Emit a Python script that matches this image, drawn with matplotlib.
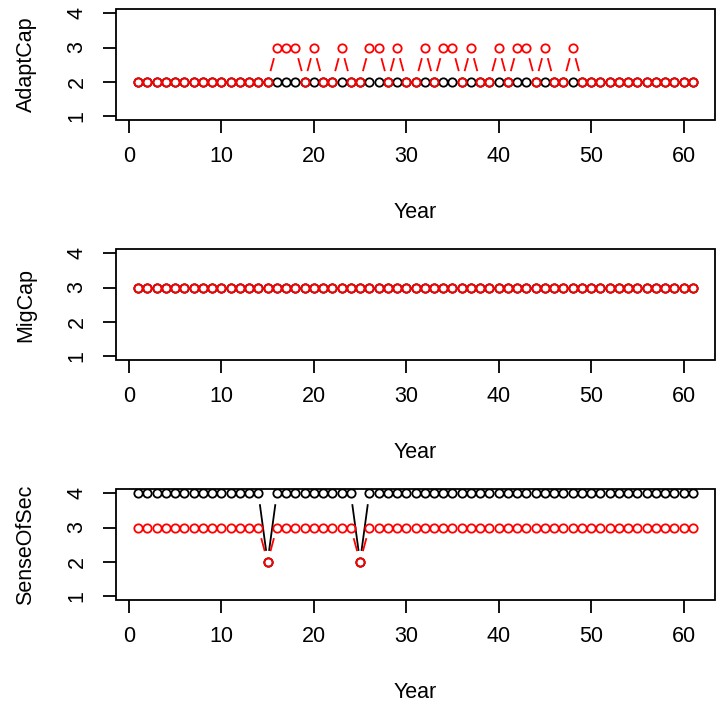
import numpy as np
import matplotlib
matplotlib.use("Agg")
import matplotlib.pyplot as plt
from matplotlib.patches import Rectangle

# Yearly scores, one panel per indicator; black series drawn first, red on top
years = np.arange(1, 62)

adapt_high_years = [16, 17, 18, 20, 23, 26, 27, 29, 32, 34, 35, 37, 40, 42, 43, 45, 48]
adapt_black = np.full(61, 2)
adapt_red = np.array([3 if yr in adapt_high_years else 2 for yr in years])

mig_black = np.full(61, 3)
mig_red = np.full(61, 3)

sense_low_years = [15, 25]
sense_black = np.array([2 if yr in sense_low_years else 4 for yr in years])
sense_red = np.array([2 if yr in sense_low_years else 3 for yr in years])

panels = [
    ("AdaptCap", adapt_black, adapt_red),
    ("MigCap", mig_black, mig_red),
    ("SenseOfSec", sense_black, sense_red),
]

W, H, DPI = 716, 707, 100
FONT = "Liberation Sans"
FS = 15.5
LW = 1.3
GAP = 11.0  # px left blank round each point, like R's type="b"


def plot_b(ax, x, y, color):
    """Points joined by lines that stop short of each point."""
    pts = ax.transData.transform(np.column_stack([x, y]))
    inv = ax.transData.inverted()
    for p0, p1 in zip(pts[:-1], pts[1:]):
        d = p1 - p0
        length = np.hypot(*d)
        if length <= 2 * GAP:
            continue
        u = d / length
        seg = inv.transform(np.vstack([p0 + u * GAP, p1 - u * GAP]))
        ax.plot(seg[:, 0], seg[:, 1], color=color, lw=LW, solid_capstyle="butt")
    ax.plot(x, y, "o", ms=6.0, mfc="none", mec=color, mew=LW, linestyle="none")


def main():
    fig = plt.figure(figsize=(W / DPI, H / DPI), dpi=DPI)
    left, right = 116, 715
    tops = [9.2, 249.2, 489.2]
    height = 110.9

    for (name, black, red), top in zip(panels, tops):
        ax = fig.add_axes([left / W, 1 - (top + height) / H, (right - left) / W, height / H])
        ax.set_xlim(-1.4, 63.4)
        ax.set_ylim(0.88, 4.12)
        for s in ax.spines.values():
            s.set_visible(False)
        ax.add_patch(Rectangle((0, 0), 1, 1, transform=ax.transAxes, fill=False,
                               lw=LW, edgecolor="black", clip_on=False, zorder=5))
        ax.set_xticks([0, 10, 20, 30, 40, 50, 60])
        ax.set_yticks([1, 2, 3, 4])
        ax.tick_params(axis="both", length=9.4, width=LW, labelsize=FS)
        ax.tick_params(axis="x", pad=9.5)
        ax.tick_params(axis="y", pad=11, labelrotation=90)
        for lbl in ax.get_xticklabels() + ax.get_yticklabels():
            lbl.set_fontfamily(FONT)
        for lbl in ax.get_yticklabels():
            lbl.set_va("center")

        plot_b(ax, years, black, "black")
        plot_b(ax, years, red, "red")

        fig.text(26 / W, 1 - (top + height / 2) / H, name, rotation=90,
                 ha="center", va="center", fontsize=FS, family=FONT)
        fig.text((left + right) / 2 / W, 1 - (top + 209.1) / H, "Year",
                 ha="center", va="baseline", fontsize=FS, family=FONT)

    fig.savefig("out.png", dpi=DPI)
    plt.close(fig)


if __name__ == "__main__":
    main()
